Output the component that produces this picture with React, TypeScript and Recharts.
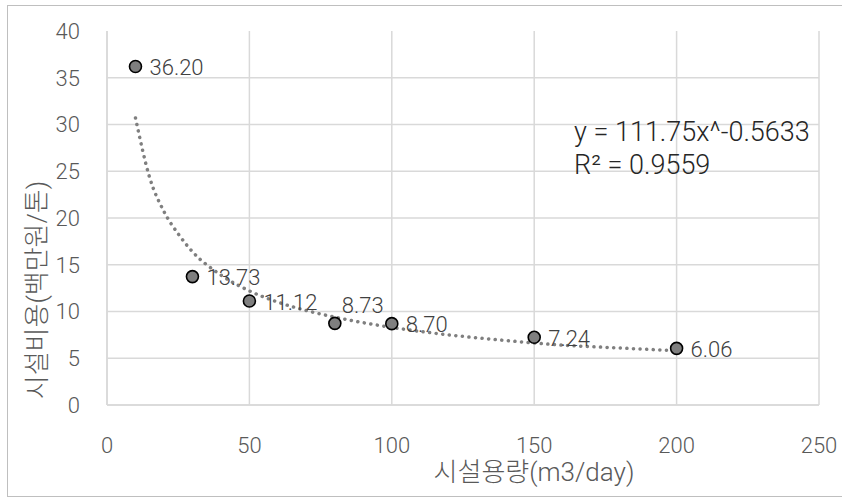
import React from "react";
import {
  ComposedChart,
  Scatter,
  Line,
  XAxis,
  YAxis,
  CartesianGrid,
  LabelList,
} from "recharts";

// 시설용량 vs 시설비용
const capacity = [10, 30, 50, 80, 100, 150, 200];
const cost = [36.2, 13.73, 11.12, 8.73, 8.7, 7.24, 6.06];

// 추세선
const trendX = [10, 15, 20, 25, 30, 40, 50, 60, 70, 80, 90, 100, 120, 140, 160, 180, 200];
const trendY = [30.7, 24.3, 20.7, 18.3, 16.4, 13.9, 12.2, 11.0, 10.1, 9.4, 8.8, 8.3, 7.5, 6.9, 6.4, 6.1, 5.8];

const xTicks = [0, 50, 100, 150, 200, 250];
const yTicks = [0, 5, 10, 15, 20, 25, 30, 35, 40];
const gridY = [0, 5, 10, 15, 20, 25, 30, 35];

const equation = "y = 111.75x^-0.5633";
const rSquared = "R² = 0.9559";
const xTitle = "시설용량(m3/day)";
const yTitle = "시설비용(백만원/톤)";

const NUM_FONT = "Roboto, 'Noto Sans CJK KR', sans-serif";

const points = capacity.map((x, i) => ({ x, y: cost[i] }));
const trend = trendX.map((x, i) => ({ x, y: trendY[i] }));

const Dot = (p: any) => (
  <circle cx={p.cx} cy={p.cy} r={6} fill="#7f7f7f" stroke="#000" strokeWidth={1.6} />
);

const ValueLabel = (p: any) => {
  const { x, y, width, height, value, index } = p;
  const cx = x + (width || 0) / 2;
  const cy = y + (height || 0) / 2;
  // 8.73 는 점 위쪽에 표시됨
  const above = index === 3;
  return (
    <text
      x={above ? cx + 7 : cx + 14}
      y={above ? cy - 18 : cy + 1}
      dy="0.355em"
      fontSize={22}
      fontWeight={300}
      fontFamily={NUM_FONT}
      fill="#404040"
    >
      {Number(value).toFixed(2)}
    </text>
  );
};

export default function App() {
  return (
    <div style={{ position: "absolute", left: 0, top: 0, width: 842, height: 497, background: "#fff" }}>
      <div
        style={{
          position: "absolute",
          left: 7,
          top: 5,
          width: 835,
          height: 490,
          borderTop: "1px solid #bfbfbf",
          borderLeft: "1px solid #bfbfbf",
          borderBottom: "1px solid #bfbfbf",
        }}
      />
      <ComposedChart
        width={842}
        height={497}
        margin={{ top: 31, right: 23, left: 0, bottom: 0 }}
        style={{ position: "absolute", left: 0, top: 0 }}
      >
        <CartesianGrid
          stroke="#d9d9d9"
          strokeWidth={1.5}
          horizontalValues={gridY}
          verticalValues={xTicks}
        />
        <XAxis
          type="number"
          dataKey="x"
          domain={[0, 250]}
          ticks={xTicks}
          height={92}
          axisLine={{ stroke: "#d9d9d9", strokeWidth: 1.5 }}
          tickLine={false}
          tickSize={0}
          tickMargin={32}
          tick={{ fill: "#595959", fontSize: 22, fontWeight: 300, fontFamily: NUM_FONT }}
          label={{
            content: () => (
              <text x={534} y={481} textAnchor="middle" fontSize={26} fontWeight={300} fontFamily={NUM_FONT} fill="#595959">
                {xTitle}
              </text>
            ),
          }}
        />
        <YAxis
          type="number"
          domain={[0, 40]}
          ticks={yTicks}
          width={107}
          axisLine={{ stroke: "#d9d9d9", strokeWidth: 1.5 }}
          tickLine={false}
          tickSize={0}
          tickMargin={27}
          tick={{ fill: "#595959", fontSize: 22, fontWeight: 300, fontFamily: NUM_FONT }}
          label={{
            content: () => (
              <text
                x={37}
                y={290}
                textAnchor="middle"
                dominantBaseline="central"
                transform="rotate(-90 37 290)"
                fontSize={26}
                fontWeight={300}
                fontFamily={NUM_FONT}
                fill="#595959"
              >
                {yTitle}
              </text>
            ),
          }}
        />
        <Line
          data={trend}
          dataKey="y"
          type="monotone"
          stroke="#7f7f7f"
          strokeWidth={3.5}
          strokeDasharray="0.1 6.5"
          strokeLinecap="round"
          dot={false}
          activeDot={false}
          isAnimationActive={false}
        />
        <Scatter data={points} dataKey="y" shape={Dot} isAnimationActive={false}>
          <LabelList dataKey="y" content={ValueLabel} />
        </Scatter>
      </ComposedChart>
      <div
        style={{
          position: "absolute",
          left: 574,
          top: 116,
          fontFamily: NUM_FONT,
          fontWeight: 300,
          fontSize: 27,
          lineHeight: "33px",
          color: "#262626",
          whiteSpace: "pre",
        }}
      >
        <div>{equation}</div>
        <div>{rSquared}</div>
      </div>
    </div>
  );
}
